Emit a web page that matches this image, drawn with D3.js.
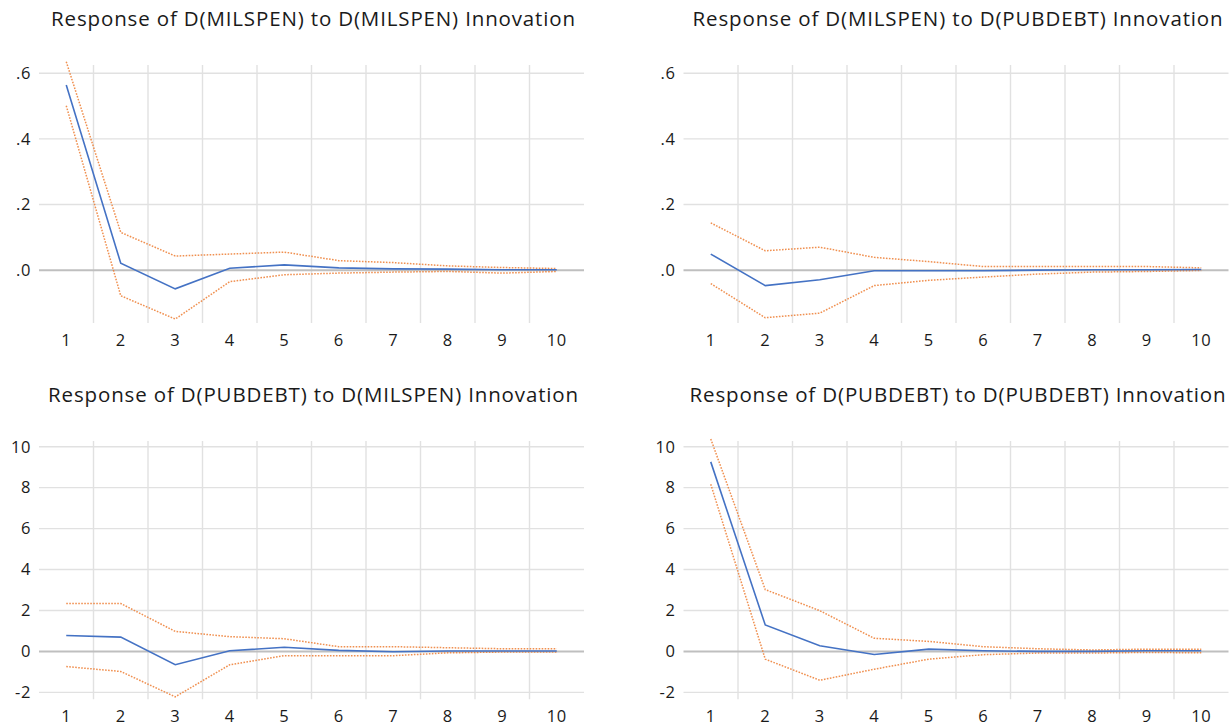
<!DOCTYPE html>
<html>
<head>
<meta charset="utf-8">
<script src="https://cdn.jsdelivr.net/npm/d3@7"></script>
<style>
  html, body { margin: 0; padding: 0; background: #fff; }
  svg { display: block; }
  text { font-family: "Open Sans", "Noto Sans", sans-serif; fill: #1a1a1a; }
</style>
</head>
<body>
<svg id="chart" width="1232" height="728"></svg>
<script>
// ---- data ----
const periods = [1, 2, 3, 4, 5, 6, 7, 8, 9, 10];

const titles = [
  "Response of D(MILSPEN) to D(MILSPEN) Innovation",
  "Response of D(MILSPEN) to D(PUBDEBT) Innovation",
  "Response of D(PUBDEBT) to D(MILSPEN) Innovation",
  "Response of D(PUBDEBT) to D(PUBDEBT) Innovation"
];

// Response of D(MILSPEN) to D(MILSPEN)
const milMilResp  = [0.564, 0.021, -0.057, 0.006, 0.016, 0.007, 0.004, 0.003, 0.001, 0.001];
const milMilUpper = [0.635, 0.115, 0.043, 0.049, 0.055, 0.029, 0.023, 0.013, 0.008, 0.005];
const milMilLower = [0.501, -0.078, -0.149, -0.035, -0.014, -0.009, -0.006, -0.004, -0.009, -0.004];

// Response of D(MILSPEN) to D(PUBDEBT)
const milDebtResp  = [0.049, -0.047, -0.029, -0.002, -0.002, -0.002, 0.000, 0.001, 0.001, 0.002];
const milDebtUpper = [0.144, 0.059, 0.070, 0.039, 0.026, 0.011, 0.011, 0.011, 0.011, 0.007];
const milDebtLower = [-0.041, -0.145, -0.131, -0.047, -0.031, -0.021, -0.012, -0.006, -0.004, -0.001];

// Response of D(PUBDEBT) to D(MILSPEN)
const debtMilResp  = [0.78, 0.70, -0.65, 0.03, 0.20, 0.05, -0.02, 0.02, 0.02, 0.02];
const debtMilUpper = [2.34, 2.34, 0.98, 0.72, 0.62, 0.23, 0.23, 0.18, 0.13, 0.13];
const debtMilLower = [-0.74, -0.98, -2.22, -0.65, -0.21, -0.21, -0.21, -0.07, -0.03, -0.03];

// Response of D(PUBDEBT) to D(PUBDEBT)
const debtDebtResp  = [9.26, 1.29, 0.28, -0.15, 0.11, 0.03, 0.00, 0.00, 0.03, 0.03];
const debtDebtUpper = [10.38, 3.02, 1.99, 0.64, 0.49, 0.23, 0.13, 0.07, 0.11, 0.11];
const debtDebtLower = [8.17, -0.38, -1.41, -0.87, -0.38, -0.16, -0.08, -0.08, -0.05, -0.07];

const smallTicks = [0, 0.2, 0.4, 0.6];
const smallTickLabels = [".0", ".2", ".4", ".6"];
const bigTicks = [-2, 0, 2, 4, 6, 8, 10];
const bigTickLabels = ["-2", "0", "2", "4", "6", "8", "10"];

// ---- layout ----
const panels = [
  { title: titles[0], resp: milMilResp, up: milMilUpper, lo: milMilLower,
    x0: 39, x1: 584, y0: 65, y1: 323, dom: [-0.161, 0.625], ticks: smallTicks, labels: smallTickLabels },
  { title: titles[1], resp: milDebtResp, up: milDebtUpper, lo: milDebtLower,
    x0: 683.5, x1: 1228.5, y0: 65, y1: 323, dom: [-0.161, 0.625], ticks: smallTicks, labels: smallTickLabels },
  { title: titles[2], resp: debtMilResp, up: debtMilUpper, lo: debtMilLower,
    x0: 39, x1: 584, y0: 441, y1: 699.3, dom: [-2.34, 10.28], ticks: bigTicks, labels: bigTickLabels },
  { title: titles[3], resp: debtDebtResp, up: debtDebtUpper, lo: debtDebtLower,
    x0: 683.5, x1: 1228.5, y0: 441, y1: 699.3, dom: [-2.34, 10.28], ticks: bigTicks, labels: bigTickLabels }
];

const svg = d3.select("#chart");
const tickFont = 16.5;

panels.forEach(p => {
  const g = svg.append("g");
  const x = d3.scaleBand().domain(periods).range([p.x0, p.x1]).padding(0);
  const y = d3.scaleLinear().domain(p.dom).range([p.y1, p.y0]);
  const cx = d => x(d) + x.bandwidth() / 2;

  // vertical gridlines between categories
  g.append("g").selectAll("line")
    .data(periods.slice(1))
    .join("line")
    .attr("x1", d => x(d)).attr("x2", d => x(d))
    .attr("y1", p.y0).attr("y2", p.y1)
    .attr("stroke", "#e1e1e1").attr("stroke-width", 1.4);

  // horizontal gridlines (non-zero)
  g.append("g").selectAll("line")
    .data(p.ticks.filter(t => t !== 0))
    .join("line")
    .attr("x1", p.x0).attr("x2", p.x1)
    .attr("y1", d => y(d)).attr("y2", d => y(d))
    .attr("stroke", "#e1e1e1").attr("stroke-width", 1.4);

  // zero line
  g.append("line")
    .attr("x1", p.x0).attr("x2", p.x1)
    .attr("y1", y(0)).attr("y2", y(0))
    .attr("stroke", "#bfbfbf").attr("stroke-width", 2);

  // y axis labels
  const yAxis = d3.axisLeft(y).tickValues(p.ticks)
    .tickFormat((d, i) => p.labels[i]).tickSize(0).tickPadding(8);
  const ya = g.append("g").attr("transform", `translate(${p.x0},0)`).call(yAxis);
  ya.select(".domain").remove();
  ya.selectAll("text").attr("font-size", tickFont).attr("fill", "#1a1a1a")
    .attr("letter-spacing", 0.6)
    .style("font-family", "'Open Sans', sans-serif");

  // x axis labels
  const xAxis = d3.axisBottom(x).tickSize(0).tickPadding(0);
  const xa = g.append("g").attr("transform", `translate(0,${p.y1 + 23})`).call(xAxis);
  xa.select(".domain").remove();
  xa.selectAll("text").attr("font-size", tickFont).attr("fill", "#1a1a1a")
    .attr("letter-spacing", 0.6)
    .attr("dy", "0").style("font-family", "'Open Sans', sans-serif");

  // title
  g.append("text")
    .attr("x", (p.x0 + p.x1) / 2 + 2)
    .attr("y", p.y0 - 39)
    .attr("text-anchor", "middle")
    .attr("font-size", 20.5)
    .attr("letter-spacing", 0.85)
    .text(p.title);

  const line = d3.line().x((d, i) => cx(periods[i])).y(d => y(d));

  // confidence bands
  [p.up, p.lo].forEach(arr => {
    g.append("path")
      .attr("d", line(arr))
      .attr("fill", "none")
      .attr("stroke", "#ed7d31")
      .attr("stroke-width", 1.5)
      .attr("stroke-dasharray", "1.6,1.4")
      .attr("opacity", 0.85);
  });

  // response
  g.append("path")
    .attr("d", line(p.resp))
    .attr("fill", "none")
    .attr("stroke", "#4472c4")
    .attr("stroke-width", 1.6);
});
</script>
</body>
</html>
